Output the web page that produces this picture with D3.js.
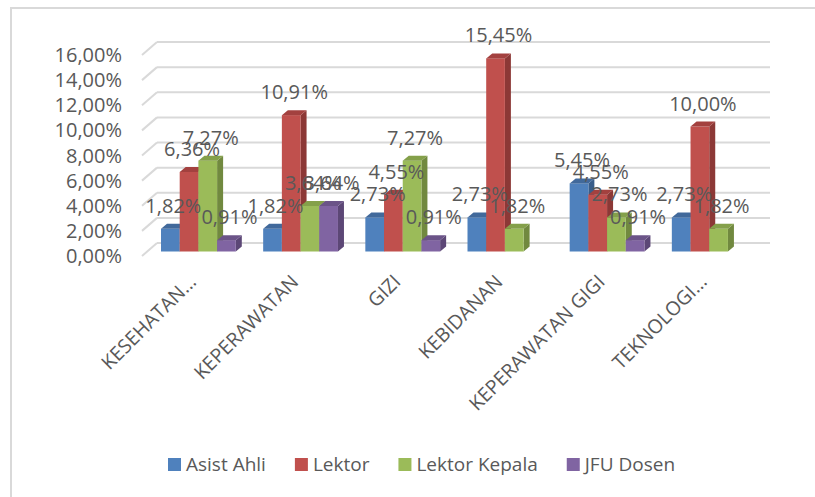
<!DOCTYPE html>
<html>
<head>
<meta charset="utf-8">
<script src="https://cdn.jsdelivr.net/npm/d3@7"></script>
<style>
  body { margin: 0; background: #fff; }
  text { font-family: "Open Sans", sans-serif; fill: #595959; }
</style>
</head>
<body>
<div id="chart"></div>
<script>
const categories = ["KESEHATAN...", "KEPERAWATAN", "GIZI", "KEBIDANAN", "KEPERAWATAN GIGI", "TEKNOLOGI..."];
const seriesNames = ["Asist Ahli", "Lektor", "Lektor Kepala", "JFU Dosen"];
const asistAhli = [1.82, 1.82, 2.73, 2.73, 5.45, 2.73];
const lektor = [6.36, 10.91, 4.55, 15.45, 4.55, 10.00];
const lektorKepala = [7.27, 3.64, 7.27, 1.82, 2.73, 1.82];
const jfuDosen = [0.91, 3.64, 0.91, null, 0.91, null];
const yTicks = [0, 2, 4, 6, 8, 10, 12, 14, 16];

const seriesValues = [asistAhli, lektor, lektorKepala, jfuDosen];
const colors = ["#4f81bd", "#c0504d", "#9bbb59", "#8064a2"];
const sideColors = ["#385d8a", "#8c3836", "#71893f", "#5c4776"];
const topColors = ["#41699b", "#a3413f", "#84a04a", "#6b5488"];

const width = 815;
const height = 497;
const depthX = 6, depthY = 5;
const barW = 18.7;
const groupOffset = 4;

const fmt = v => d3.format(".2f")(v).replace(".", ",") + "%";

const svg = d3.select("#chart")
    .append("svg")
    .attr("width", width)
    .attr("height", height);

// chart frame
svg.append("rect")
    .attr("x", 11)
    .attr("y", 8)
    .attr("width", width + 20)
    .attr("height", height + 20)
    .attr("fill", "none")
    .attr("stroke", "#d9d9d9")
    .attr("stroke-width", 2);

const xScale = d3.scaleBand()
    .domain(categories)
    .range([157, 770]);

const yWall = d3.scaleLinear().domain([0, 16]).range([243, 42]);
const yBar = d3.scaleLinear().domain([0, 16]).range([251.5, 51.5]);

// gridlines (back wall + slanted side)
const grid = svg.append("g");
yTicks.forEach(t => {
    grid.append("line")
        .attr("x1", 157).attr("x2", 770)
        .attr("y1", yWall(t)).attr("y2", yWall(t))
        .attr("stroke", "#d9d9d9").attr("stroke-width", 2);
    grid.append("line")
        .attr("x1", 142).attr("x2", 157)
        .attr("y1", yWall(t) + 13).attr("y2", yWall(t))
        .attr("stroke", "#d9d9d9").attr("stroke-width", 2);
    grid.append("text")
        .attr("x", 122)
        .attr("y", yWall(t) + 13)
        .attr("dy", "0.35em")
        .attr("text-anchor", "end")
        .style("font-size", "20px")
        .text(fmt(t));
});

// bars
const bars = svg.append("g");
categories.forEach((c, j) => {
    seriesValues.forEach((vals, i) => {
        const v = vals[j];
        if (v == null) return;
        const x0 = xScale(c) + groupOffset + i * barW;
        const x1 = x0 + barW;
        const yt = yBar(v);
        const yb = yBar(0);
        bars.append("polygon")
            .attr("points", [[x1, yt], [x1 + depthX, yt - depthY], [x1 + depthX, yb - depthY], [x1, yb]].join(" "))
            .attr("fill", sideColors[i]);
        bars.append("rect")
            .attr("x", x0).attr("y", yt)
            .attr("width", barW).attr("height", yb - yt)
            .attr("fill", colors[i]);
        bars.append("polygon")
            .attr("points", [[x0, yt], [x0 + depthX, yt - depthY], [x1 + depthX, yt - depthY], [x1, yt]].join(" "))
            .attr("fill", topColors[i]);
    });
});

// data labels
const labels = svg.append("g");
categories.forEach((c, j) => {
    seriesValues.forEach((vals, i) => {
        const v = vals[j];
        if (v == null) return;
        const x0 = xScale(c) + groupOffset + i * barW;
        labels.append("text")
            .attr("x", x0 + barW / 2 + 3)
            .attr("y", yBar(v) - 16)
            .attr("text-anchor", "middle")
            .style("font-size", "20px")
            .text(fmt(v));
    });
});

// category labels
categories.forEach(c => {
    const cx = xScale(c) + groupOffset + 2 * barW - 1;
    svg.append("text")
        .attr("transform", `translate(${cx},${283}) rotate(-45)`)
        .attr("text-anchor", "end")
        .style("font-size", "19.5px")
        .text(c);
});

// legend
const legend = svg.append("g");
let lx = 168;
seriesNames.forEach((name, i) => {
    legend.append("rect")
        .attr("x", lx).attr("y", 458)
        .attr("width", 13).attr("height", 13)
        .attr("fill", colors[i]);
    const t = legend.append("text")
        .attr("x", lx + 18)
        .attr("y", 464.5)
        .attr("dy", "0.35em")
        .style("font-size", "19px")
        .text(name);
    lx += 18 + t.node().getComputedTextLength() + 29;
});
</script>
</body>
</html>
